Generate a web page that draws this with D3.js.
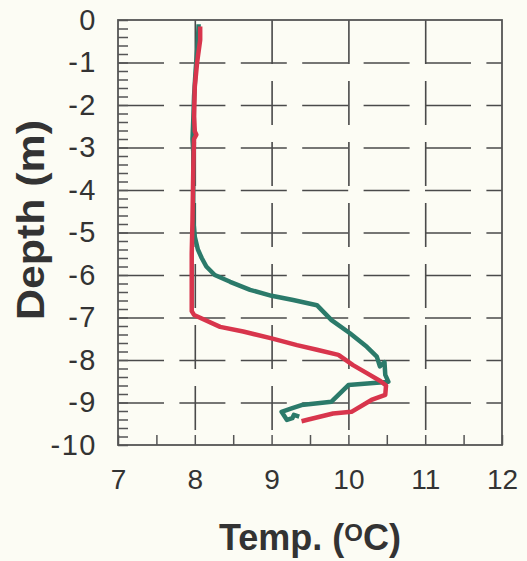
<!DOCTYPE html>
<html>
<head>
<meta charset="utf-8">
<script src="https://cdn.jsdelivr.net/npm/d3@7"></script>
<style>
  html, body { margin: 0; padding: 0; background: #fcfcf4; }
  svg { display: block; }
  .lbl text { font-family: "Liberation Sans", Arial, sans-serif; fill: #333; }
</style>
</head>
<body>
<svg id="chart" width="527" height="561"></svg>
<script>
// temperature profile, [temp degC, depth m]
var greenProfile = [
  [8.05, -0.1], [8.04, -0.5], [8.01, -1.2], [7.99, -1.8], [7.98, -2.35], [7.97, -2.8],
  [7.98, -3.1], [7.98, -4.0], [7.98, -4.7], [8.0, -5.1], [8.04, -5.4], [8.09, -5.6],
  [8.15, -5.8], [8.26, -6.0], [8.46, -6.16], [8.72, -6.35], [9.0, -6.49], [9.28, -6.59],
  [9.59, -6.71], [9.78, -7.06], [10.02, -7.37], [10.24, -7.69], [10.37, -7.92],
  [10.41, -8.15], [10.47, -8.05], [10.48, -8.35], [10.52, -8.51], [10.41, -8.53],
  [10.0, -8.59], [9.91, -8.75], [9.78, -8.98], [9.39, -9.06], [9.26, -9.14],
  [9.13, -9.22], [9.2, -9.41], [9.27, -9.37], [9.29, -9.29], [9.36, -9.33]
];
var redProfile = [
  [8.07, -0.15], [8.07, -0.47], [8.03, -1.0], [8.0, -1.57], [7.99, -2.27], [8.0, -2.62],
  [8.02, -2.7], [7.99, -2.8], [7.98, -3.53], [7.97, -4.7], [7.96, -5.5], [7.96, -6.85],
  [7.99, -6.94], [8.33, -7.22], [8.63, -7.33], [9.0, -7.49], [9.33, -7.65], [9.59, -7.76],
  [9.87, -7.88], [10.06, -8.12], [10.24, -8.31], [10.42, -8.5], [10.49, -8.6],
  [10.48, -8.82], [10.3, -8.94], [10.04, -9.22], [9.8, -9.26], [9.48, -9.4], [9.39, -9.44]
];
var tempTicks = [7, 8, 9, 10, 11, 12];
var depthTicks = [0, -1, -2, -3, -4, -5, -6, -7, -8, -9, -10];
var tempGrid = [8, 9, 10, 11];
var depthGrid = [-1, -2, -3, -4, -5, -6, -7, -8, -9];

var svg = d3.select('#chart');
var plotL = 118, plotR = 502, plotT = 20, plotB = 445;
var w = plotR - plotL, h = plotB - plotT;

var x = d3.scaleLinear().domain([7, 12]).range([plotL, plotR]);
var y = d3.scaleLinear().domain([0, -10]).range([plotT, plotB]);
// plain hyphen minus, like the original
function fmt(d) { return String(d); }

function noText(g) {
  g.select('.domain').remove();
  g.selectAll('text').remove();
}

// dashed grid
svg.append('g')
  .attr('transform', 'translate(' + plotL + ',0)')
  .call(d3.axisLeft(y).tickValues(depthGrid).tickSize(-w))
  .call(noText)
  .selectAll('line')
  .attr('stroke', '#4a4a4a').attr('stroke-width', 1.6).attr('stroke-dasharray', '46 15.4');

svg.append('g')
  .attr('transform', 'translate(0,' + plotT + ')')
  .call(d3.axisTop(x).tickValues(tempGrid).tickSize(-h))
  .call(noText)
  .selectAll('line')
  .attr('stroke', '#4a4a4a').attr('stroke-width', 1.6).attr('stroke-dasharray', '44 17');

// minor ticks
svg.append('g')
  .attr('transform', 'translate(' + plotL + ',0)')
  .call(d3.axisLeft(y).tickValues(d3.range(0, 51).map(function (i) { return -i * 0.2; })).tickSize(-10))
  .call(noText)
  .selectAll('line').attr('stroke', '#555').attr('stroke-width', 1.5);

svg.append('g')
  .attr('transform', 'translate(0,' + plotB + ')')
  .call(d3.axisBottom(x).tickValues(d3.range(0, 11).map(function (i) { return 7 + i * 0.5; })).tickSize(-10))
  .call(noText)
  .selectAll('line').attr('stroke', '#555').attr('stroke-width', 1.5);

// frame
svg.append('rect')
  .attr('x', plotL).attr('y', plotT).attr('width', w).attr('height', h)
  .attr('fill', 'none').attr('stroke', '#555').attr('stroke-width', 1.8);

// tick labels
var yl = svg.append('g').attr('class', 'lbl')
  .attr('transform', 'translate(' + (plotL - 21) + ',0)')
  .call(d3.axisLeft(y).tickValues(depthTicks).tickFormat(fmt).tickSize(0).tickPadding(0));
yl.select('.domain').remove();
yl.selectAll('text').attr('font-size', 29).attr('letter-spacing', 1.5);

var xl = svg.append('g').attr('class', 'lbl')
  .attr('transform', 'translate(0,' + (plotB + 24) + ')')
  .call(d3.axisBottom(x).tickValues(tempTicks).tickFormat(fmt).tickSize(0).tickPadding(0));
xl.select('.domain').remove();
xl.selectAll('text').attr('font-size', 28);

// lines
var line = d3.line()
  .x(function (d) { return x(d[0]); })
  .y(function (d) { return y(d[1]); });

svg.append('path').datum(greenProfile)
  .attr('d', line).attr('fill', 'none')
  .attr('stroke', '#2b7a6a').attr('stroke-width', 4.5).attr('stroke-linejoin', 'round');
svg.append('path').datum(redProfile)
  .attr('d', line).attr('fill', 'none')
  .attr('stroke', '#d8354c').attr('stroke-width', 4.5).attr('stroke-linejoin', 'round');

// titles
var xt = svg.append('text')
  .attr('x', 310).attr('y', 550)
  .attr('text-anchor', 'middle')
  .attr('font-family', '"Liberation Sans", Arial, sans-serif')
  .attr('font-weight', 'bold').attr('font-size', 36).attr('fill', '#333');
xt.append('tspan').text('Temp. (');
xt.append('tspan').attr('font-size', 24).attr('dy', -9).text('O');
xt.append('tspan').attr('dy', 9).text('C)');

svg.append('text')
  .attr('transform', 'translate(44,220) rotate(-90)')
  .attr('text-anchor', 'middle')
  .attr('font-family', '"Liberation Sans", Arial, sans-serif')
  .attr('font-weight', 'bold').attr('font-size', 38).attr('fill', '#333')
  .attr('textLength', 200).attr('lengthAdjust', 'spacingAndGlyphs')
  .text('Depth (m)');
</script>
</body>
</html>
